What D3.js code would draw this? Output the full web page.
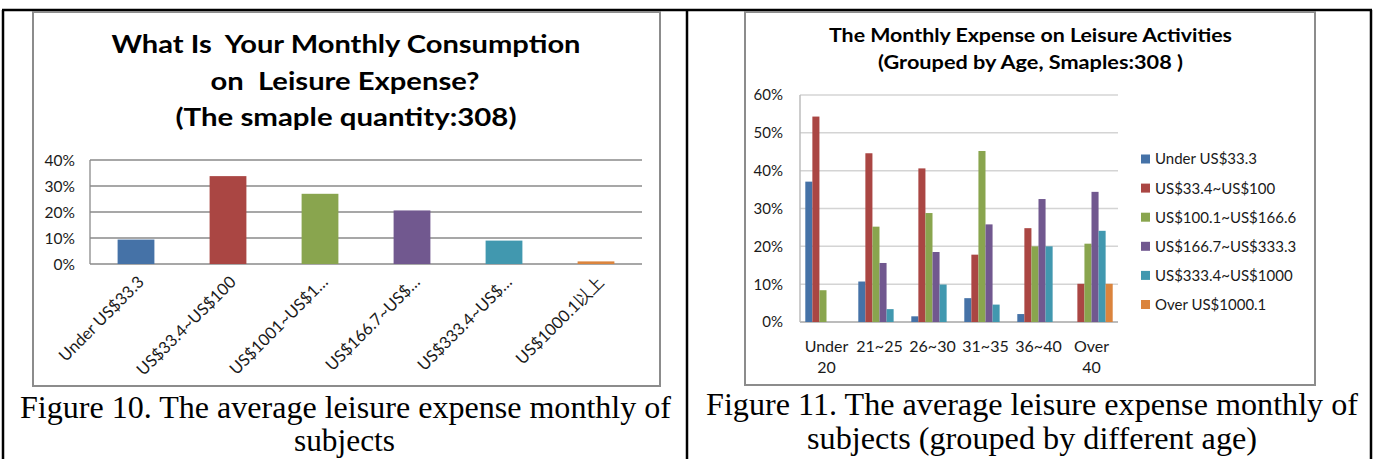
<!DOCTYPE html>
<html>
<head>
<meta charset="utf-8">
<script src="https://cdn.jsdelivr.net/npm/d3@7"></script>
<style>
    html, body { margin: 0; padding: 0; background: #fff; }
    svg { display: block; }
    text { white-space: pre; }
    .lbl { font-family: Lato, "Open Sans", sans-serif; fill: #1a1a1a; }
    .ttl { font-family: Lato, "Open Sans", sans-serif; font-weight: bold; fill: #000; }
    .cap { font-family: "Times New Roman", "Liberation Serif", Tinos, Times, serif; fill: #000; }
</style>
</head>
<body>
<svg id="page" width="1377" height="459"></svg>
<script>
// Figure 10 data
const spendCats = ['Under US$33.3', 'US$33.4~US$100', 'US$1001~US$1…', 'US$166.7~US$…', 'US$333.4~US$…', 'US$1000.1以上'];
const spendValues = [9.4, 33.8, 27.0, 20.6, 9.0, 1.0];
const leftTicks = [0, 10, 20, 30, 40];

// Figure 11 data
const ageGroups = [['Under', '20'], ['21~25'], ['26~30'], ['31~35'], ['36~40'], ['Over', '40']];
const seriesNames = ['Under US$33.3', 'US$33.4~US$100', 'US$100.1~US$166.6', 'US$166.7~US$333.3', 'US$333.4~US$1000', 'Over US$1000.1'];
const under33 = [37.1, 10.7, 1.5, 6.3, 2.1, 0];
const from33to100 = [54.3, 44.6, 40.6, 17.8, 24.8, 10.1];
const from100to166 = [8.4, 25.2, 28.8, 45.2, 20.0, 20.7];
const from166to333 = [0, 15.6, 18.5, 25.8, 32.5, 34.4];
const from333to1000 = [0, 3.4, 9.9, 4.6, 20.0, 24.1];
const over1000 = [0, 0, 0, 0, 0, 10.1];
const rightTicks = [0, 10, 20, 30, 40, 50, 60];

const colors = ['#4572A7', '#AA4643', '#89A54E', '#71588F', '#4198AF', '#DB843D'];

const svg = d3.select('#page');

// page table borders
function drawTable() {
    const t = svg.append('g').attr('stroke', '#000').attr('stroke-width', 2.5).attr('fill', 'none');
    t.append('line').attr('x1', 2).attr('x2', 1372).attr('y1', 10).attr('y2', 10);
    t.append('line').attr('x1', 3).attr('x2', 3).attr('y1', 10).attr('y2', 459);
    t.append('line').attr('x1', 687).attr('x2', 687).attr('y1', 10).attr('y2', 459);
    t.append('line').attr('x1', 1371).attr('x2', 1371).attr('y1', 10).attr('y2', 459);
}

function textLine(g, cls, str, x, y, size, len) {
    g.append('text')
        .attr('class', cls)
        .attr('x', x)
        .attr('y', y)
        .attr('text-anchor', 'middle')
        .attr('font-size', size)
        .attr('textLength', len)
        .attr('lengthAdjust', 'spacingAndGlyphs')
        .text(str);
}

function drawFigure10() {
    const g = svg.append('g');
    g.append('rect')
        .attr('x', 33).attr('y', 12).attr('width', 627).attr('height', 374)
        .attr('fill', '#fff').attr('stroke', '#8c8c8c').attr('stroke-width', 2);

    textLine(g, 'ttl', 'What Is  Your Monthly Consumption', 346, 53, 25.5, 469);
    textLine(g, 'ttl', 'on  Leisure Expense?', 345, 90, 25.5, 269);
    textLine(g, 'ttl', '(The smaple quantity:308)', 346, 126, 25.5, 341);

    const x = d3.scaleBand().domain(spendCats).range([90, 642]).paddingInner(0.6).paddingOuter(0.3);
    const y = d3.scaleLinear().domain([0, 40]).range([264, 160]);

    g.append('g')
        .selectAll('line')
        .data(leftTicks)
        .join('line')
        .attr('x1', 90).attr('x2', 642)
        .attr('y1', d => y(d)).attr('y2', d => y(d))
        .attr('stroke', '#8a8a8a').attr('stroke-width', 1.3);
    g.append('line')
        .attr('x1', 90).attr('x2', 90).attr('y1', y(40)).attr('y2', y(0))
        .attr('stroke', '#8a8a8a').attr('stroke-width', 1.3);

    g.append('g')
        .selectAll('text')
        .data(leftTicks)
        .join('text')
        .attr('class', 'lbl')
        .attr('x', 75).attr('y', d => y(d))
        .attr('dy', '0.36em')
        .attr('text-anchor', 'end')
        .attr('font-size', 15.5)
        .text(d => d + '%');

    g.append('g')
        .selectAll('rect')
        .data(spendValues)
        .join('rect')
        .attr('x', (d, i) => x(spendCats[i]))
        .attr('width', x.bandwidth())
        .attr('y', d => y(d))
        .attr('height', d => y(0) - y(d))
        .attr('fill', (d, i) => colors[i]);

    g.append('g')
        .selectAll('text')
        .data(spendCats)
        .join('text')
        .attr('class', 'lbl')
        .attr('font-size', 16.5)
        .attr('text-anchor', 'end')
        .attr('dy', '0.35em')
        .attr('transform', d => `translate(${x(d) + x.bandwidth() / 2 + 5},${279}) rotate(-45)`)
        .text(d => d);

    textLine(g, 'cap', 'Figure 10. The average leisure expense monthly of', 345.5, 418, 31, 651);
    textLine(g, 'cap', 'subjects', 344.5, 451, 31, 101);
}

function drawFigure11() {
    const g = svg.append('g');
    g.append('rect')
        .attr('x', 745).attr('y', 12).attr('width', 570).attr('height', 373)
        .attr('fill', '#fff').attr('stroke', '#8c8c8c').attr('stroke-width', 2);

    textLine(g, 'ttl', 'The Monthly Expense on Leisure Activities', 1030.5, 42, 18, 403);
    textLine(g, 'ttl', '(Grouped by Age, Smaples:308 )', 1030.5, 69, 18, 305);

    const seriesData = [under33, from33to100, from100to166, from166to333, from333to1000, over1000];
    const groupKeys = ageGroups.map(d => d.join(' '));

    const x0 = d3.scaleBand().domain(groupKeys).range([800, 1118]).paddingInner(0.2).paddingOuter(0.1);
    const x1 = d3.scaleBand().domain(seriesNames).range([0, x0.bandwidth()]);
    const y = d3.scaleLinear().domain([0, 60]).range([322, 95]);

    g.append('g')
        .selectAll('line')
        .data(rightTicks)
        .join('line')
        .attr('x1', 800).attr('x2', 1118)
        .attr('y1', d => y(d)).attr('y2', d => y(d))
        .attr('stroke', d => d === 0 ? '#a6a6a6' : '#d4d4d4').attr('stroke-width', 1.5);
    g.append('line')
        .attr('x1', 800).attr('x2', 800).attr('y1', y(60)).attr('y2', y(0))
        .attr('stroke', '#bdbdbd').attr('stroke-width', 1.5);

    g.append('g')
        .selectAll('text')
        .data(rightTicks)
        .join('text')
        .attr('class', 'lbl')
        .attr('x', 783).attr('y', d => y(d))
        .attr('dy', '0.36em')
        .attr('text-anchor', 'end')
        .attr('font-size', 15)
        .text(d => d + '%');

    const groups = g.append('g')
        .selectAll('g')
        .data(groupKeys)
        .join('g')
        .attr('transform', d => `translate(${x0(d)},0)`);

    groups.selectAll('rect')
        .data((d, gi) => seriesData.map((s, si) => ({ name: seriesNames[si], value: s[gi], idx: si })))
        .join('rect')
        .attr('x', d => x1(d.name))
        .attr('width', x1.bandwidth())
        .attr('y', d => y(d.value))
        .attr('height', d => y(0) - y(d.value))
        .attr('fill', d => colors[d.idx]);

    groups.selectAll('text')
        .data((d, gi) => ageGroups[gi])
        .join('text')
        .attr('class', 'lbl')
        .attr('x', x0.bandwidth() / 2)
        .attr('y', (d, i) => 352 + i * 21)
        .attr('text-anchor', 'middle')
        .attr('font-size', 16)
        .text(d => d);

    const legend = g.append('g')
        .selectAll('g')
        .data(seriesNames)
        .join('g')
        .attr('transform', (d, i) => `translate(1141,${159 + i * 29.1})`);
    legend.append('rect')
        .attr('x', 0).attr('y', -4.5).attr('width', 9).attr('height', 9)
        .attr('fill', (d, i) => colors[i]);
    legend.append('text')
        .attr('class', 'lbl')
        .attr('x', 14).attr('dy', '0.36em')
        .attr('font-size', 15)
        .text(d => d);

    textLine(g, 'cap', 'Figure 11. The average leisure expense monthly of', 1032, 415, 31, 652);
    textLine(g, 'cap', 'subjects (grouped by different age)', 1032, 449, 31, 450);
}

drawTable();
drawFigure10();
drawFigure11();
</script>
</body>
</html>
